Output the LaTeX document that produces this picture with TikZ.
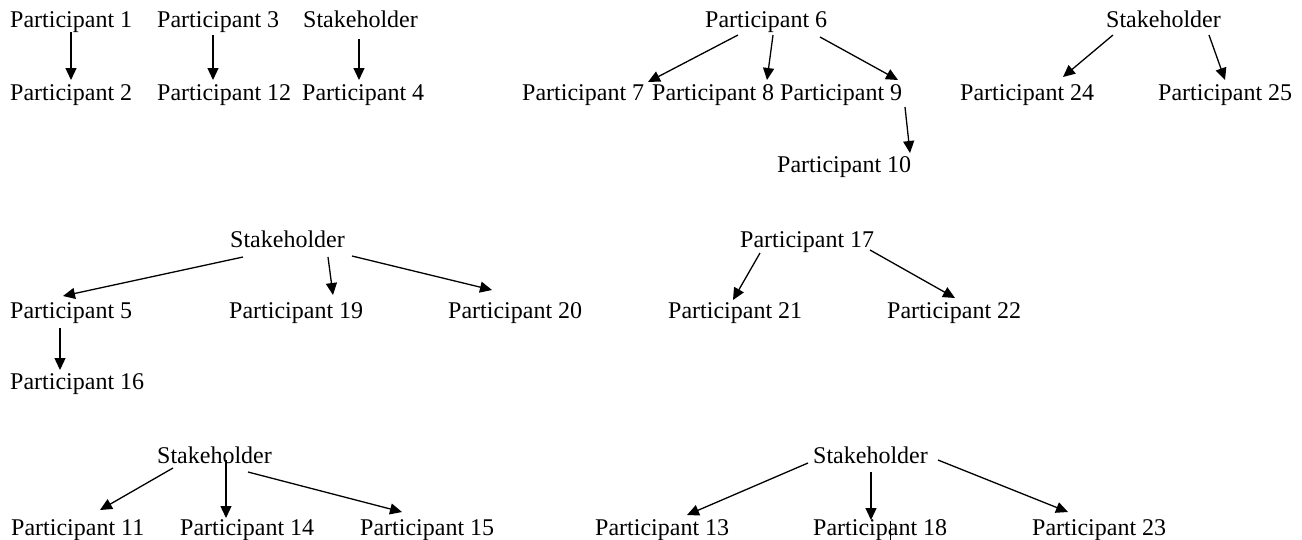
\documentclass[tikz,border=0pt]{standalone}
\usepackage{fontspec}
\setmainfont{Liberation Serif}
\usetikzlibrary{arrows.meta}
\tikzset{
  lbl/.style={inner sep=0pt, anchor=base west, font=\fontsize{24}{29}\selectfont},
  arr/.style={-{Triangle[length=12pt,width=11pt]}, line width=1.3pt, black},
  cursor/.style={line width=1pt, black}
}
\begin{document}
\begin{tikzpicture}[x=1pt,y=-1pt]
\useasboundingbox[fill=white] (0,0) rectangle (1302,539);
% group 1
\node[lbl] (p1) at (10,27) {Participant 1};
\node[lbl] (p3) at (157,27) {Participant 3};
\node[lbl] (sA) at (303,27) {Stakeholder};
\node[lbl] (p2) at (10,100) {Participant 2};
\node[lbl] (p12) at (157,100) {Participant 12};
\node[lbl] (p4) at (302,100) {Participant 4};
% group 2
\node[lbl] (p6) at (705,27) {Participant 6};
\node[lbl] (p7) at (522,100) {Participant 7};
\node[lbl] (p8) at (652,100) {Participant 8};
\node[lbl] (p9) at (780,100) {Participant 9};
\node[lbl] (p10) at (777,172) {Participant 10};
% group 3
\node[lbl] (sF) at (1106,27) {Stakeholder};
\node[lbl] (p24) at (960,100) {Participant 24};
\node[lbl] (p25) at (1158,100) {Participant 25};
% group 4
\node[lbl] (sB) at (230,247) {Stakeholder};
\node[lbl] (p5) at (10,318) {Participant 5};
\node[lbl] (p19) at (229,318) {Participant 19};
\node[lbl] (p20) at (448,318) {Participant 20};
\node[lbl] (p16) at (10,389) {Participant 16};
% group 5
\node[lbl] (p17) at (740,247) {Participant 17};
\node[lbl] (p21) at (668,318) {Participant 21};
\node[lbl] (p22) at (887,318) {Participant 22};
% group 6
\node[lbl] (sD) at (157,463) {Stakeholder};
\node[lbl] (p11) at (11,535) {Participant 11};
\node[lbl] (p14) at (180,535) {Participant 14};
\node[lbl] (p15) at (360,535) {Participant 15};
% group 7
\node[lbl] (sE) at (813,463) {Stakeholder};
\node[lbl] (p13) at (595,535) {Participant 13};
\node[lbl] (p18) at (813,535) {Participant 18};
\node[lbl] (p23) at (1032,535) {Participant 23};

% connectors
\draw[arr] ([shift={(61,5)}]p1.base west) -- ([shift={(61,-20)}]p2.base west);
\draw[arr] ([shift={(56,8)}]p3.base west) -- ([shift={(56,-20)}]p12.base west);
\draw[arr] ([shift={(56,12)}]sA.base west) -- ([shift={(57,-20)}]p4.base west);

\draw[arr] ([shift={(33,8)}]p6.base west) -- ([shift={(126,-18)}]p7.base west);
\draw[arr] ([shift={(68,8)}]p6.base west) -- ([shift={(115,-20)}]p8.base west);
\draw[arr] ([shift={(115,10)}]p6.base west) -- ([shift={(118,-20)}]p9.base west);
\draw[arr] ([shift={(125,7)}]p9.base west) -- ([shift={(133,-19)}]p10.base west);

\draw[arr] ([shift={(7,8)}]sF.base west) -- ([shift={(103,-23)}]p24.base west);
\draw[arr] ([shift={(103,8)}]sF.base west) -- ([shift={(67,-20)}]p25.base west);

\draw[arr] ([shift={(13,10)}]sB.base west) -- ([shift={(53,-22)}]p5.base west);
\draw[arr] ([shift={(98,10)}]sB.base west) -- ([shift={(104,-23)}]p19.base west);
\draw[arr] ([shift={(122,9)}]sB.base west) -- ([shift={(44,-28)}]p20.base west);
\draw[arr] ([shift={(50,10)}]p5.base west) -- ([shift={(50,-19)}]p16.base west);

\draw[arr] ([shift={(20,6)}]p17.base west) -- ([shift={(65,-18)}]p21.base west);
\draw[arr] ([shift={(130,3)}]p17.base west) -- ([shift={(68,-20)}]p22.base west);

\draw[arr] ([shift={(16,5)}]sD.base west) -- ([shift={(89,-25)}]p11.base west);
\draw[arr] ([shift={(69,-3)}]sD.base west) -- ([shift={(46,-17)}]p14.base west);
\draw[arr] ([shift={(91,9)}]sD.base west) -- ([shift={(42,-23)}]p15.base west);

\draw[arr] ([shift={(-5,0)}]sE.base west) -- ([shift={(92,-20)}]p13.base west);
\draw[arr] ([shift={(58,9)}]sE.base west) -- ([shift={(58,-15)}]p18.base west);
\draw[arr] ([shift={(125,-3)}]sE.base west) -- ([shift={(36,-23)}]p23.base west);

% text cursor mark
\draw[cursor] ([shift={(77,-14)}]p18.base west) -- ([shift={(77,8)}]p18.base west);
\end{tikzpicture}
\end{document}
